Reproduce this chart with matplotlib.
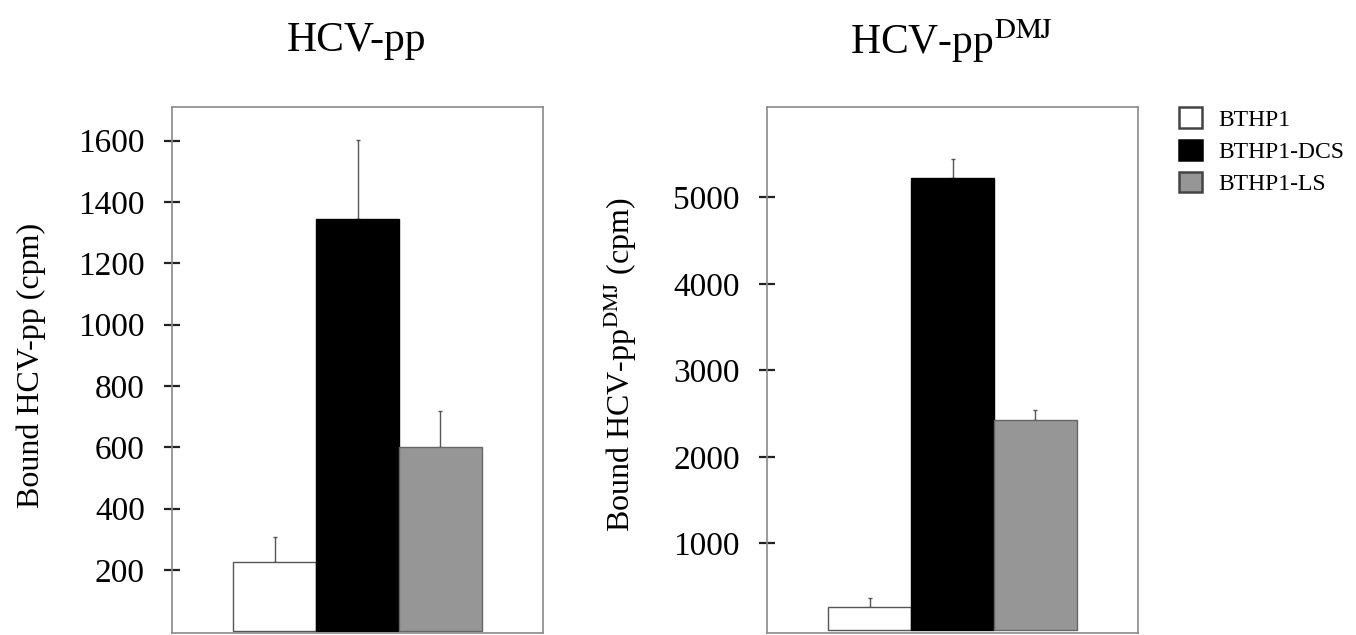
import numpy as np
import matplotlib
matplotlib.use("Agg")
import matplotlib.pyplot as plt
from matplotlib.patches import Patch

plt.rcParams['font.family'] = ['Liberation Serif', 'DejaVu Serif']
plt.rcParams['mathtext.fontset'] = 'stix'

# data
groups = ["BTHP1", "BTHP1-DCS", "BTHP1-LS"]
colores = ["white", "black", "#969696"]
bordes = ["#555555", "black", "#666666"]

hcv = [225, 1345, 600]
hcvErr = [83, 257, 117]
dmj = [265, 5220, 2430]
dmjErr = [110, 220, 110]

titulos = ["HCV-pp", "HCV-pp$^{\\mathrm{DMJ}}$"]
yLabels = ["Bound HCV-pp (cpm)", "Bound HCV-pp$^{\\mathrm{DMJ}}$ (cpm)"]
ticks1 = [200, 400, 600, 800, 1000, 1200, 1400, 1600]
ticks2 = [1000, 2000, 3000, 4000, 5000]

fig = plt.figure(figsize=(13.56, 6.35), dpi=100)
W, H = 1356.0, 635.0

def panel(x0, valores, errores, yticks, ylim, titulo, ylabel, labelX):
    ax = fig.add_axes([x0 / W, 1 - 633 / H, 371 / W, (633 - 107) / H])
    x = np.arange(len(valores))
    ax.bar(x, valores, width=1.0, color=colores, edgecolor=bordes, linewidth=1.0, zorder=2)
    ax.errorbar(x, valores, yerr=[np.zeros(len(errores)), errores], fmt='none',
                ecolor='#555555', elinewidth=1.0, capsize=1.5, capthick=1.0, zorder=1)
    ax.set_xlim(-1.235, 3.235)
    ax.set_ylim(*ylim)
    ax.set_xticks([])
    ax.set_yticks(yticks)
    ax.tick_params(axis='y', direction='inout', length=11, width=1.6, color='#222222',
                   labelsize=24, pad=14)
    for s in ax.spines.values():
        s.set_color('#8a8a8a')
        s.set_linewidth(1.2)
    fig.text((x0 + 185) / W, 1 - 41 / H, titulo, ha='center', va='center', fontsize=30)
    fig.text(labelX / W, 1 - 365 / H, ylabel, ha='center', va='center', rotation=90, fontsize=23)
    return ax

panel(172, hcv, hcvErr, ticks1, (-6, 1710), titulos[0], yLabels[0], 31)
panel(767, dmj, dmjErr, ticks2, (-35, 6046), titulos[1], yLabels[1], 620)

handles = [Patch(facecolor=c, edgecolor=b, linewidth=1.8) for c, b in zip(colores, ["#444444", "black", "#444444"])]
fig.legend(handles, groups, loc='upper left', bbox_to_anchor=(1158 / W, 1 - 86 / H),
           frameon=False, fontsize=17, handlelength=0.95, handleheight=0.95,
           handletextpad=0.7, labelspacing=0.38)

fig.savefig("out.png", dpi=100)
